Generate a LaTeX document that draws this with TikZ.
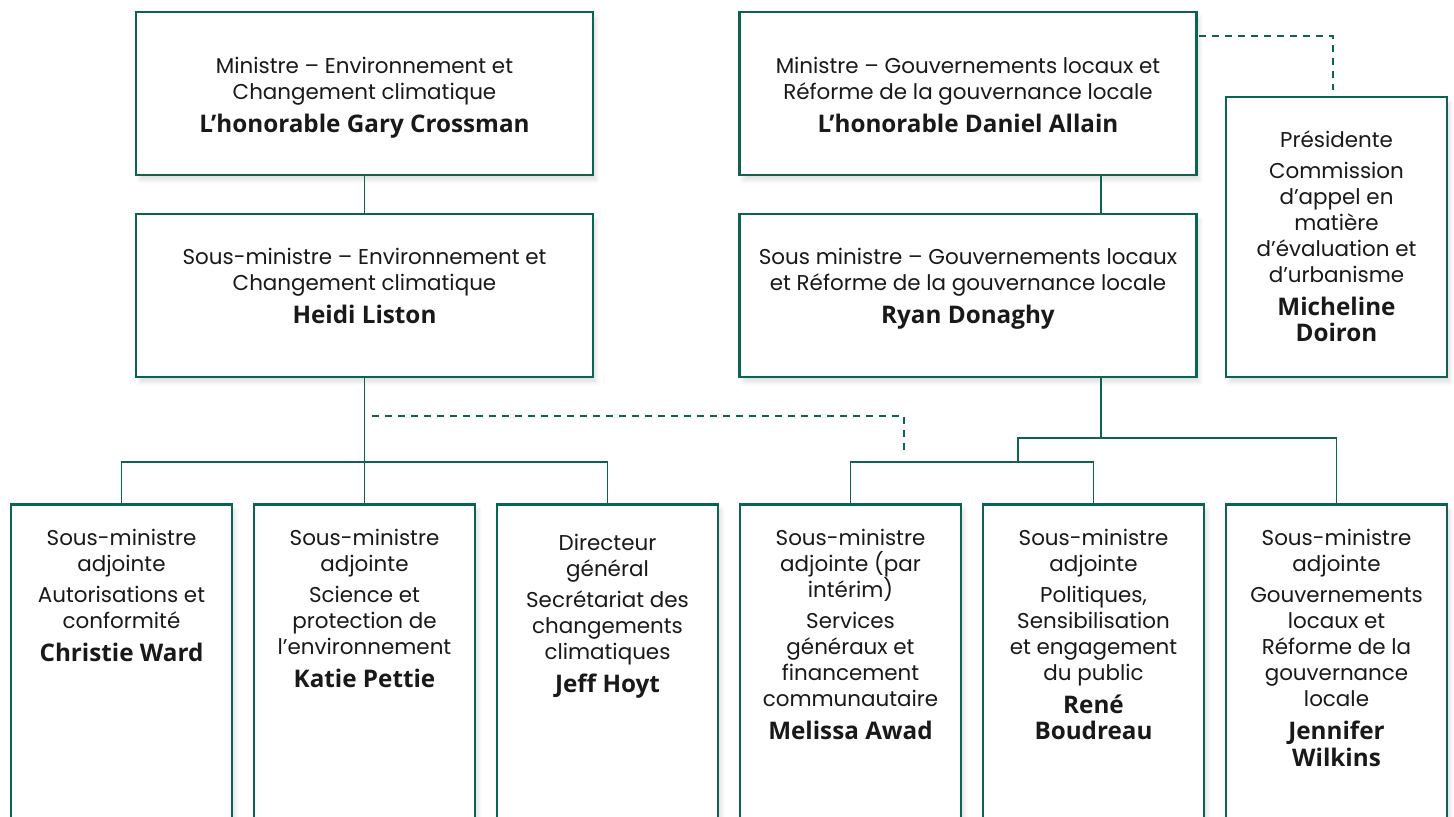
\documentclass[tikz,border=0pt]{standalone}
\usepackage{fontspec}
\setmainfont{Poppins}
\newfontfamily\namefont{Open Sans}
\usetikzlibrary{shadows.blur}
\definecolor{gnbgreen}{RGB}{12,99,84}
\tikzset{
    box/.style={draw=gnbgreen, line width=1.5pt, fill=white, inner sep=0pt,
            blur shadow={shadow blur steps=6, shadow xshift=2pt, shadow yshift=-3pt, shadow opacity=12}},
    topbox/.style={box, minimum width=9.14cm, minimum height=3.26cm},
    smallbox/.style={box, minimum width=4.42cm, minimum height=6.6cm, anchor=north},
    txt/.style={align=center, inner sep=0pt, anchor=north, text=black!90,
            font=\fontsize{12.2}{14.8}\selectfont},
    conn/.style={draw=gnbgreen, line width=1.1pt},
    dashline/.style={draw=gnbgreen, line width=1pt, dash pattern=on 4pt off 3.4pt},
}
\newcommand{\who}[1]{{\namefont\bfseries\fontsize{13.8}{15.3}\selectfont #1}}

\begin{document}
\begin{tikzpicture}[x=0.02cm, y=-0.02cm]
    \useasboundingbox (0,0) rectangle (1454,816);
    \clip (0,0) rectangle (1454,816);
    %ministers
    \node[topbox] (min1) at (364.5,93.5) {};
    \node[topbox] (min2) at (968,93.5) {};
    \node[topbox] (sm1) at (364.5,295.5) {};
    \node[topbox] (sm2) at (968,295.5) {};
    \node[box, minimum width=4.42cm, minimum height=5.6cm] (pres) at (1336.5,237) {};
    %assistant deputies
    \node[smallbox] (b1) at (121.5,503) {};
    \node[smallbox] (b2) at (364.5,503) {};
    \node[smallbox] (b3) at (607.5,503) {};
    \node[smallbox] (b4) at (850.5,503) {};
    \node[smallbox] (b5) at (1093.5,503) {};
    \node[smallbox] (b6) at (1336.5,503) {};
    %texts
    \node[txt] (min1t) at (364.5,57) {Ministre – Environnement et\\Changement climatique\\[4pt]\who{L’honorable Gary Crossman}};
    \node[txt] (min2t) at (968,57) {Ministre – Gouvernements locaux et\\Réforme de la gouvernance locale\\[4pt]\who{L’honorable Daniel Allain}};
    \node[txt] (sm1t) at (364.5,248) {Sous-ministre – Environnement et\\Changement climatique\\[4pt]\who{Heidi Liston}};
    \node[txt] (sm2t) at (968,248) {Sous ministre – Gouvernements locaux\\et Réforme de la gouvernance locale\\[4pt]\who{Ryan Donaghy}};
    \node[txt] (prest) at (1336.5,130) {Présidente\\[3pt]Commission\\d’appel en\\matière\\d’évaluation et\\d’urbanisme\\[4pt]\who{Micheline}\\\who{Doiron}};
    \node[txt] (b1t) at (121.5,529) {Sous-ministre\\adjointe\\[3pt]Autorisations et\\conformité\\[4pt]\who{Christie Ward}};
    \node[txt] (b2t) at (364.5,529) {Sous-ministre\\adjointe\\[3pt]Science et\\protection de\\l’environnement\\[4pt]\who{Katie Pettie}};
    \node[txt] (b3t) at (607.5,534) {Directeur\\général\\[3pt]Secrétariat des\\changements\\climatiques\\[4pt]\who{Jeff Hoyt}};
    \node[txt] (b4t) at (850.5,529) {Sous-ministre\\adjointe (par\\intérim)\\[3pt]Services\\généraux et\\financement\\communautaire\\[4pt]\who{Melissa Awad}};
    \node[txt] (b5t) at (1093.5,529) {Sous-ministre\\adjointe\\[3pt]Politiques,\\Sensibilisation\\et engagement\\du public\\[4pt]\who{René}\\\who{Boudreau}};
    \node[txt] (b6t) at (1336.5,529) {Sous-ministre\\adjointe\\[3pt]Gouvernements\\locaux et\\Réforme de la\\gouvernance\\locale\\[4pt]\who{Jennifer}\\\who{Wilkins}};
    %connectors
    \coordinate (rtrunk) at (1101,438);
    \coordinate (rmid) at (1018,461);
    \coordinate (dleft) at (372,416);
    \coordinate (dright) at (904,452);
    \coordinate (dtop) at (1199,36);
    \coordinate (dpres) at (1333,90);
    \draw[conn] (min1.south) -- (sm1.north);
    \draw[conn] (sm1.south) -- (b2.north);
    \draw[conn] (b1.north) -- ++(0,-41) -| (b3.north);
    \draw[conn] (min2.south -| rtrunk) -- (sm2.north -| rtrunk);
    \draw[conn] (sm2.south -| rtrunk) -- (rtrunk);
    \draw[conn] (rmid) |- (rtrunk) -| (b6.north);
    \draw[conn] (b4.north) -- ++(0,-41) -| (b5.north);
    %dashed links
    \draw[dashline] (dleft) -| (dright);
    \draw[dashline] (dtop) -| (dpres);
\end{tikzpicture}
\end{document}
